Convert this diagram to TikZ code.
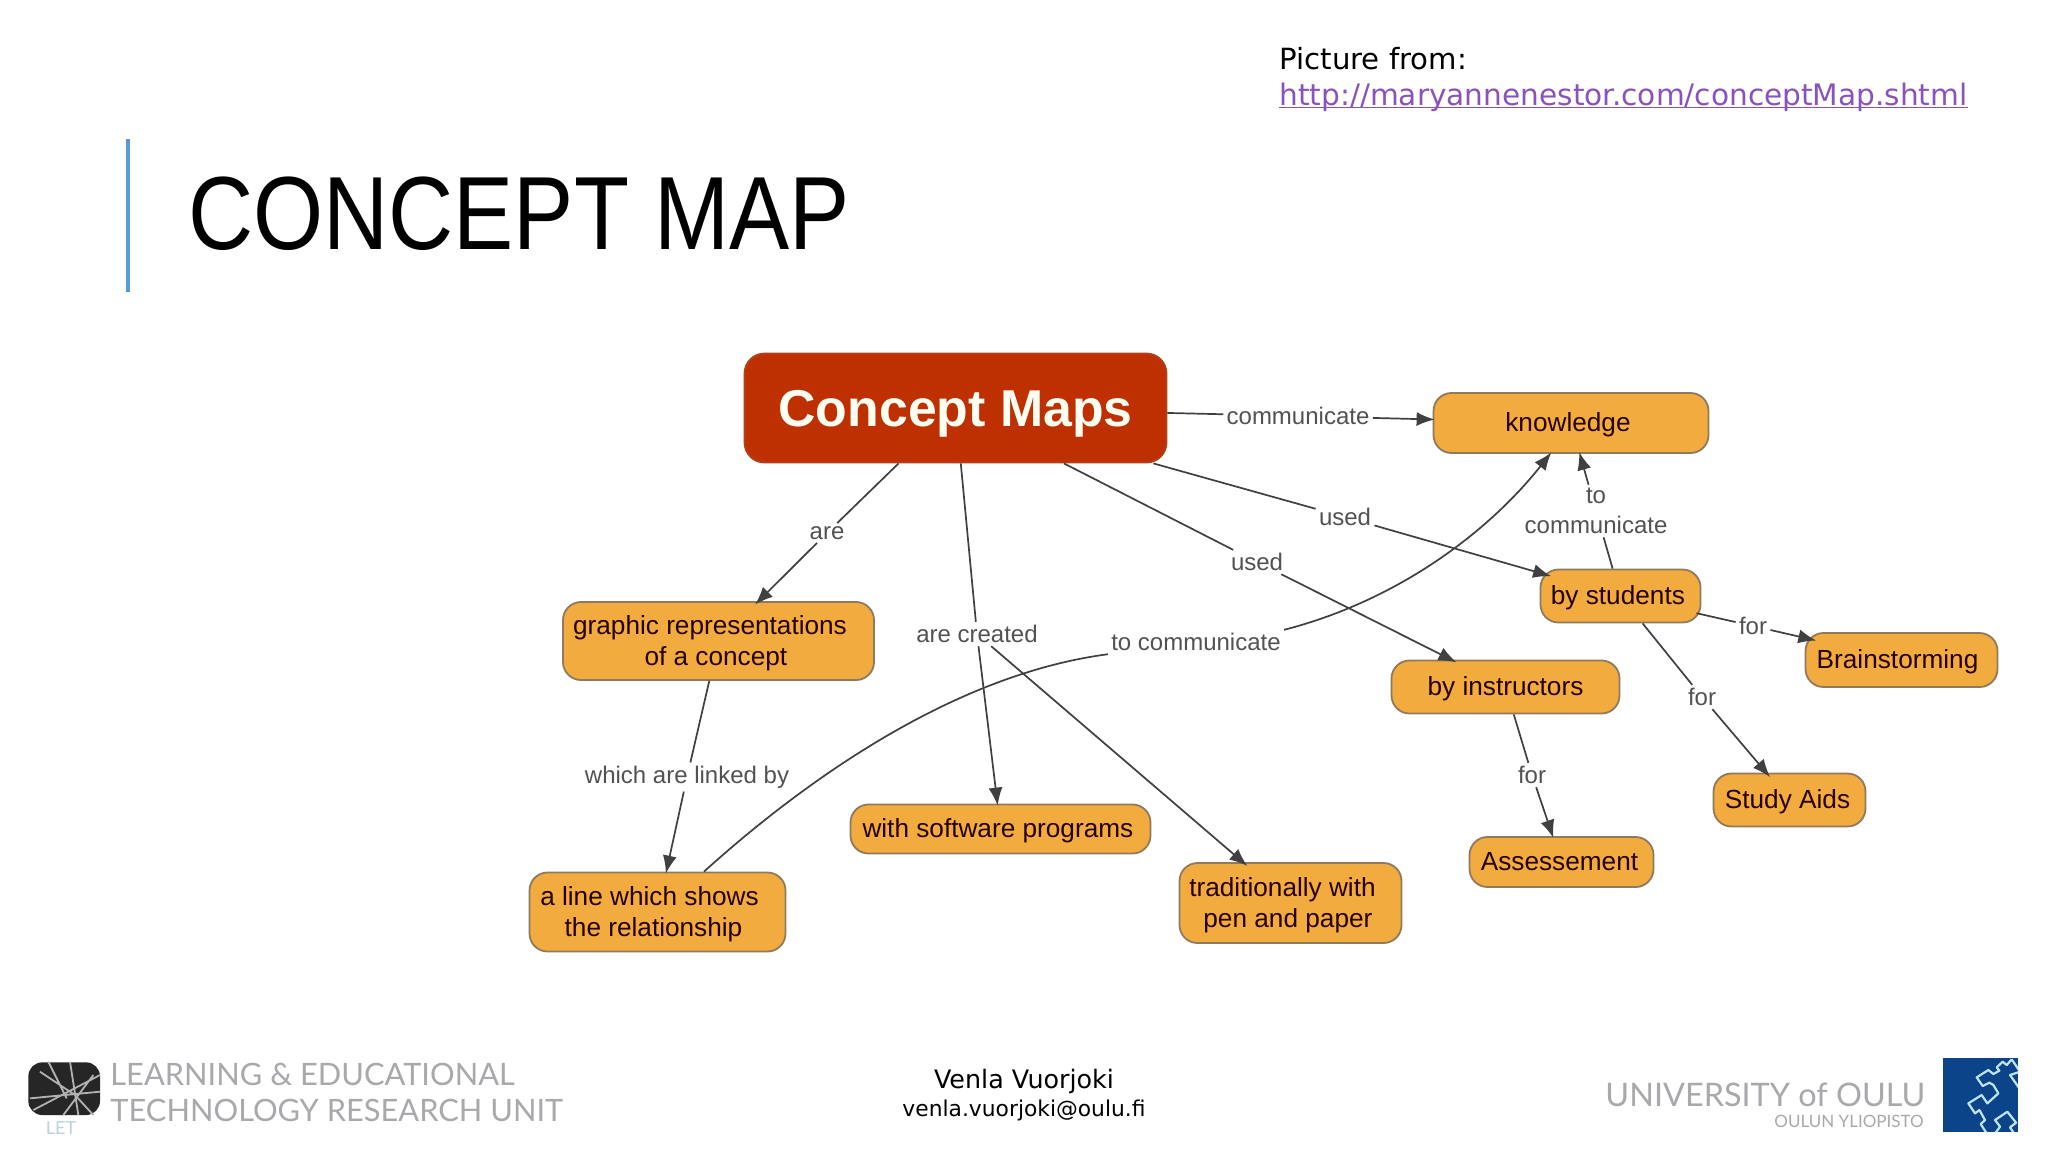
\documentclass[tikz,border=0pt]{standalone}
\usepackage{fontspec}
\usepackage{tikz}
\usetikzlibrary{arrows.meta}
\setmainfont{Liberation Sans}
\newfontfamily\slidefont{DejaVu Sans}
\newfontfamily\logofont{Lato}
\definecolor{conceptfill}{HTML}{F2AB3E}
\definecolor{conceptline}{HTML}{8F7A5E}
\definecolor{conceptred}{HTML}{BF3000}
\definecolor{linktext}{HTML}{8A52BC}
\definecolor{barblue}{HTML}{5B9BD5}
\definecolor{oulublue}{HTML}{0B4488}
\definecolor{oululine}{HTML}{BFE3F5}
\definecolor{logogrey}{HTML}{A9A9AD}

\tikzset{
    concept/.style = {draw=conceptline, fill=conceptfill, text=black!85!red,
        font=\fontsize{13.1}{15.5}\selectfont, align=center, rounded corners=9pt,
        line width=0.9pt, inner sep=0pt, text depth=1pt},
    linkword/.style = {text=black!68, font=\fontsize{12}{15}\selectfont,
        align=center, inner sep=1.5pt},
    slidetext/.style = {anchor=west, inner sep=0pt, font=\slidefont\fontsize{14.6}{17}\selectfont},
    logotext/.style = {anchor=west, inner sep=0pt, text=logogrey},
    connect/.style = {draw=black!75, line width=0.85pt},
    flow/.style = {connect, ->, shorten >=-1pt}
}

\begin{document}
\begin{tikzpicture}[x=0.5pt, y=-0.5pt, >={Latex[length=9pt,width=7pt]}]
    \useasboundingbox (0,0) rectangle (2048,1152);

    \fill [white] (0,0) rectangle (2048,1152);
    \draw [line width=2pt, color=barblue] (128,139) -- (128,292);
    \node [anchor=west, inner sep=0pt, transform shape, xscale=0.867,
            font=\fontsize{52}{54}\selectfont] at (188,214) (title) {CONCEPT MAP};
    \node [slidetext] at (1279,59) (source) {Picture from:};
    \node [slidetext, text=linktext, font=\slidefont\fontsize{14.8}{17}\selectfont]
        at (1279,107) (sourcelink)
        {\underline{\smash{http://maryannenestor.com/conceptMap.shtml}}};

    \node [concept, minimum width=211pt, minimum height=54.5pt, draw=conceptred!80!gray,
            fill=conceptred, text=white!95!yellow, rounded corners=10pt, text depth=0pt,
            font=\fontsize{25.9}{28}\selectfont\bfseries]
        at (955.5,408) (maps) {Concept Maps};
    \node [concept, minimum width=137.5pt, minimum height=30pt]
        at (1571,423) (knowledge) {knowledge\hspace*{3pt}};
    \node [concept, minimum width=155.5pt, minimum height=39pt]
        at (718.5,641) (graphic) {graphic representations\hspace*{8.5pt}\\of a concept\hspace*{2.6pt}};
    \node [concept, minimum width=128pt, minimum height=39.5pt]
        at (657.5,912) (line) {a line which shows\hspace*{8pt}\\the relationship\hspace*{4pt}};
    \node [concept, minimum width=150pt, minimum height=24.5pt]
        at (1000.5,829) (software) {with software programs\hspace*{2.6pt}};
    \node [concept, minimum width=111pt, minimum height=40pt]
        at (1290.5,903) (paper) {traditionally with\hspace*{8pt}\\pen and paper\hspace*{2.6pt}};
    \node [concept, minimum width=114pt, minimum height=26.5pt]
        at (1505.5,687) (instructors) {by instructors};
    \node [concept, minimum width=80pt, minimum height=26.5pt]
        at (1620.5,596) (students) {by students\hspace*{2.6pt}};
    \node [concept, minimum width=96pt, minimum height=27pt]
        at (1901.5,660) (brain) {Brainstorming\hspace*{4pt}};
    \node [concept, minimum width=76pt, minimum height=26.5pt]
        at (1789.5,800) (aids) {Study Aids\hspace*{2pt}};
    \node [concept, minimum width=92pt, minimum height=25pt]
        at (1561.5,862) (assess) {Assessement\hspace*{2pt}};

    \node [linkword] at (827,533) (are) {are};
    \node [linkword] at (977,634) (created) {are created};
    \node [linkword] at (1257,562) (usedA) {used};
    \node [linkword] at (1345,517) (usedB) {used};
    \node [linkword] at (1298,416) (comm) {communicate};
    \node [linkword] at (1596,511) (tocomm) {to\\communicate};
    \node [linkword] at (1196,642) (tocommB) {to communicate};
    \node [linkword] at (687,777) (linked) {which are linked by};
    \node [linkword] at (1753,626) (forA) {for};
    \node [linkword] at (1702,697) (forB) {for};
    \node [linkword] at (1532,775) (forC) {for};

    \draw [connect] (maps) -- (are);
    \draw [flow, shorten >=-2.5pt] (are) -- (graphic);
    \draw [connect] (maps) -- (created);
    \draw [flow] (created) -- (software);
    \draw [flow, shorten >=-3pt] (created) -- (paper);
    \draw [connect] (maps) -- (usedA);
    \draw [flow, shorten >=-3pt] (usedA) -- (instructors);
    \draw [connect] (maps) -- (usedB);
    \draw [flow, shorten >=-6pt] (usedB) -- (students);
    \draw [connect] (maps) -- (comm);
    \draw [flow] (comm) -- (knowledge);
    \draw [connect] (students) -- (tocomm);
    \draw [flow] (tocomm) -- (knowledge);
    \draw [connect] (graphic) -- (linked);
    \draw [flow] (linked) -- (line);
    \draw [connect] (line.41.6)
        .. controls (800,785) and (950,675) .. (tocommB.south west);
    \draw [flow] (tocommB.north east)
        .. controls (1400,600) and (1490,530) .. (knowledge.236);
    \draw [connect, shorten <=-2.5pt] (students) -- (forA);
    \draw [flow, shorten >=-6pt] (forA) -- (brain);
    \draw [connect] (students) -- (forB);
    \draw [flow, shorten >=-3pt] (forB) -- (aids);
    \draw [connect] (instructors) -- (forC);
    \draw [flow] (forC) -- (assess);

    \node [anchor=center, inner sep=0pt, font=\slidefont\fontsize{12.7}{15}\selectfont]
        at (1024,1081) (author) {Venla Vuorjoki};
    \node [anchor=center, inner sep=0pt, font=\slidefont\fontsize{10.9}{13}\selectfont]
        at (1024,1110) (mail) {venla.vuorjoki@oulu.fi};

    \begin{scope}[shift={(20,1055)}, x=0.1667pt, y=-0.1667pt]
        \fill [black!85, rounded corners=7pt] (25,22) rectangle (240,180);
        \draw [white!70!black, line width=0.9pt]
            (60,50) -- (165,120) -- (220,180) (85,20) -- (140,130) (240,60) -- (40,165)
            (150,20) -- (175,180) (30,130) -- (240,110) (220,60) -- (130,180);
    \end{scope}
    \node [inner sep=0pt, text=cyan!35!gray!45, font=\logofont\fontsize{9}{10}\selectfont]
        at (61,1128) (let) {LET};
    \node [logotext, font=\logofont\fontsize{15.4}{18}\selectfont]
        at (110,1074) (unitA) {LEARNING \& EDUCATIONAL};
    \node [logotext, font=\logofont\fontsize{15.4}{18}\selectfont]
        at (110,1110) (unitB) {TECHNOLOGY RESEARCH UNIT};
    \node [logotext, font=\logofont\fontsize{16.2}{18}\selectfont]
        at (1605,1095) (uni) {UNIVERSITY of OULU};
    \node [logotext, anchor=east, font=\logofont\fontsize{8.5}{10}\selectfont]
        at (1924,1121) (yliopisto) {OULUN YLIOPISTO};

    \begin{scope}[shift={(1930,1050)}, x=0.1667pt, y=-0.1667pt]
        \fill [oulublue] (38,25) rectangle (265,245);
        \clip (38,25) rectangle (265,245);
        \draw [oululine, line width=1.1pt, line join=round]
            (245,28) -- (230,45) -- (218,35) -- (200,52) -- (208,62) -- (190,72)
            -- (175,60) -- (140,82) -- (158,108) -- (178,98) -- (190,105) -- (205,130)
            -- (172,160) -- (155,135) -- (115,160) -- (135,190) -- (148,180)
            -- (165,210) -- (152,222) -- (170,250)
            (245,28) -- (270,65) -- (240,75) -- (270,118)
            (195,250) -- (210,230) -- (195,210) -- (232,185) -- (258,218)
            -- (240,232) -- (252,250);
    \end{scope}
\end{tikzpicture}
\end{document}
